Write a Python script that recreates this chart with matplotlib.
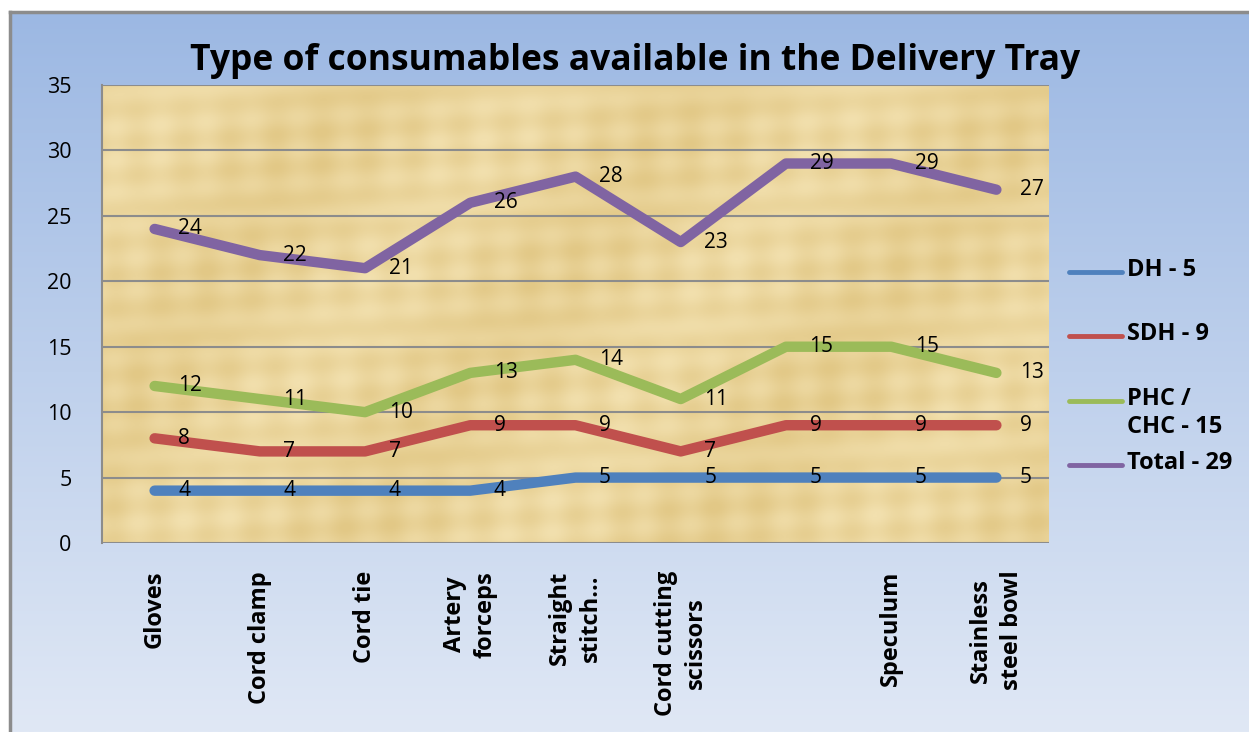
import matplotlib.pyplot as plt
import numpy as np
from matplotlib.lines import Line2D

# data
items = ["Gloves", "Cord clamp", "Cord tie", "Artery\nforceps", "Straight\nstitch...",
         "Cord cutting\nscissors", "", "Speculum", "Stainless\nsteel bowl"]
dh = [4, 4, 4, 4, 5, 5, 5, 5, 5]
sdh = [8, 7, 7, 9, 9, 7, 9, 9, 9]
phc = [12, 11, 10, 13, 14, 11, 15, 15, 13]
total = [24, 22, 21, 26, 28, 23, 29, 29, 27]

series = [("DH - 5", dh, "#4F81BD"),
          ("SDH - 9", sdh, "#C0504D"),
          ("PHC /\nCHC - 15", phc, "#9BBB59"),
          ("Total - 29", total, "#8064A2")]

plt.rcParams['font.family'] = ['Open Sans', 'DejaVu Sans']

W, H = 1249, 732
fig = plt.figure(figsize=(W / 100, H / 100), dpi=100)
fig.patch.set_facecolor("white")

# outer chart area: blue vertical gradient, grey border on left and top only
bg = fig.add_axes([10 / W, 0, 1 - 10 / W, 1 - 12 / H], zorder=0)
grad = np.linspace(0, 1, 256).reshape(-1, 1)
top_c = np.array([0x9C, 0xB8, 0xE3]) / 255
bot_c = np.array([0xE0, 0xE8, 0xF5]) / 255
img = top_c + (bot_c - top_c) * grad[:, :, None]
bg.imshow(img, aspect="auto", extent=[0, 1, 0, 1])
bg.set_xlim(0, 1)
bg.set_ylim(0, 1)
bg.set_xticks([])
bg.set_yticks([])
for side, s in bg.spines.items():
    if side in ("left", "top"):
        s.set_color("#8C8C8C")
        s.set_linewidth(2.5)
    else:
        s.set_visible(False)

# plot area
left, right, top, bottom = 102, 1049, 85, 543
ax = fig.add_axes([left / W, (H - bottom) / H, (right - left) / W, (bottom - top) / H], zorder=1)

# papyrus-like tan fill
yy, xx = np.mgrid[0:200, 0:400]
tex = (0.5 + 0.18 * np.sin(xx / 3.1) * np.sin(yy / 17.0) + 0.15 * np.sin(yy / 2.3 + xx / 40.0)
       + 0.2 * np.sin(xx / 23.0 + yy / 31.0))
c1 = np.array([0xE2, 0xC8, 0x86]) / 255
c2 = np.array([0xF2, 0xE0, 0xAE]) / 255
tex = np.clip(tex, 0, 1)
ax.imshow(c1 + (c2 - c1) * tex[:, :, None], aspect="auto", extent=[-0.5, 8.5, 0, 35], zorder=0)

x = np.arange(len(items))
for name, vals, col in series:
    ax.plot(x, vals, color=col, lw=7.5, solid_capstyle="round", solid_joinstyle="round", zorder=3)
for name, vals, col in series:
    for xi, v in zip(x, vals):
        ax.annotate(str(v), (xi, v), xytext=(17, 0), textcoords="offset points",
                    ha="left", va="center", fontsize=15, color="black", zorder=5)

ax.set_xlim(-0.5, 8.5)
ax.set_ylim(0, 35)
ax.set_yticks(range(0, 36, 5))
ax.yaxis.grid(True, color="#8C8C8C", lw=1.5, zorder=1)
ax.set_axisbelow(False)
ax.tick_params(axis="y", length=0, labelsize=15.5, pad=22)
ax.set_xticks(x)
ax.set_xticklabels(items, rotation=90, fontsize=17, fontweight="bold",
                   ha="center", va="top", multialignment="center", linespacing=1.35)
ax.tick_params(axis="x", length=0, pad=20)
for sp in ["top", "right", "bottom"]:
    ax.spines[sp].set_visible(False)
ax.spines["left"].set_color("#8C8C8C")
ax.spines["left"].set_linewidth(1.5)

fig.text(635 / W, 1 - 61 / H, "Type of consumables available in the Delivery Tray",
         ha="center", va="center", fontsize=25.5, fontweight="bold")

# legend drawn at the right of the plot area
leg_y = [272, 336, 401, 465]
for (name, vals, col), ly in zip(series, leg_y):
    fy = 1 - ly / H
    fig.add_artist(Line2D([1069 / W, 1122 / W], [fy, fy], color=col, lw=3.5,
                          solid_capstyle="round", transform=fig.transFigure))
    fig.text(1127 / W, fy + 14 / H, name, ha="left", va="top", fontsize=17,
             fontweight="bold", linespacing=1.2)

fig.savefig("out.png", dpi=100)
